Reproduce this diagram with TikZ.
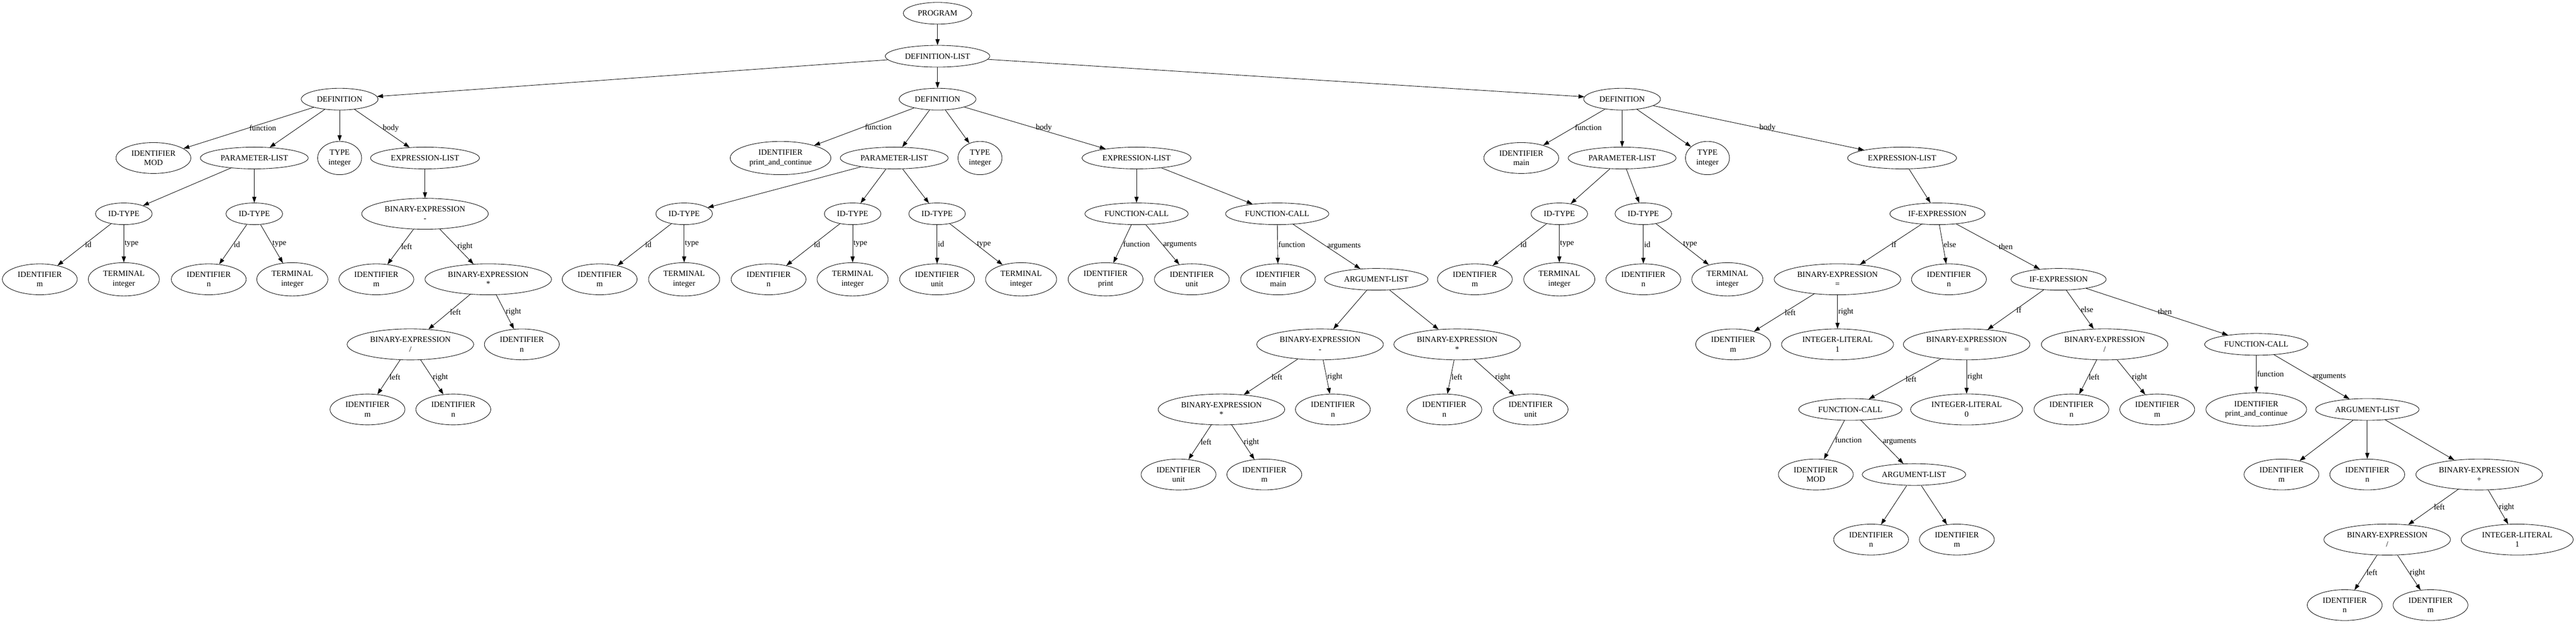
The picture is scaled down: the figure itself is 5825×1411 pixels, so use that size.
\documentclass[tikz,border=0pt]{standalone}
\usepackage{fontspec}
\setmainfont{Liberation Serif}
\usetikzlibrary{arrows.meta,shapes.geometric}
\newcommand{\astfont}{\fontsize{13.6}{16}\selectfont}
\tikzset{
  ast/.style={draw, ellipse, align=center, inner xsep=7.5pt, inner ysep=6pt,
    minimum width=55pt, minimum height=36.75pt, font=\astfont},
  lbl/.style={right, inner sep=1pt, font=\astfont}
}

\begin{document}
\begin{tikzpicture}[x=0.75pt, y=-0.75pt, line width=0.75pt,
  >={Triangle[length=10pt,width=7pt]}]
  \useasboundingbox (0,0) rectangle (5825,1411);

  \node [ast] (prog) at (2120,30) {PROGRAM};
  \node [ast] (dlist) at (2120,127) {DEFINITION-LIST};
  \node [ast] (def1) at (768,224) {DEFINITION};
  \node [ast] (def2) at (2120,224) {DEFINITION};
  \node [ast] (def3) at (3668,224) {DEFINITION};
  \draw [->] (prog) -- (dlist);
  \draw [->] (dlist) edge (def1) edge (def2) edge (def3);

  % first definition
  \node [ast] (mod1) at (347,357) {IDENTIFIER\\MOD};
  \node [ast] (pl1) at (575,357) {PARAMETER-LIST};
  \node [ast] (ty1) at (768,357) {TYPE\\integer};
  \node [ast] (el1) at (961,357) {EXPRESSION-LIST};
  \node [ast] (it1a) at (280,483) {ID-TYPE};
  \node [ast] (it1b) at (575,483) {ID-TYPE};
  \node [ast] (be1a) at (961,483) {BINARY-EXPRESSION\\-};
  \node [ast] (id1m) at (90,631) {IDENTIFIER\\m};
  \node [ast] (te1a) at (280,631) {TERMINAL\\integer};
  \node [ast] (id1n) at (472,631) {IDENTIFIER\\n};
  \node [ast] (te1b) at (661,631) {TERMINAL\\integer};
  \node [ast] (id1m2) at (851,631) {IDENTIFIER\\m};
  \node [ast] (be1b) at (1104,631) {BINARY-EXPRESSION\\*};
  \node [ast] (be1c) at (928,778) {BINARY-EXPRESSION\\/};
  \node [ast] (id1n2) at (1180,778) {IDENTIFIER\\n};
  \node [ast] (id1m3) at (831,925) {IDENTIFIER\\m};
  \node [ast] (id1n3) at (1025,925) {IDENTIFIER\\n};

  \draw [->] (def1) edge node [lbl] {function} (mod1) edge (pl1) edge (ty1)
    edge node [lbl] {body} (el1);
  \draw [->] (pl1) edge (it1a) edge (it1b);
  \draw [->] (it1a) edge node [lbl] {id} (id1m) edge node [lbl] {type} (te1a);
  \draw [->] (it1b) edge node [lbl] {id} (id1n) edge node [lbl] {type} (te1b);
  \draw [->] (el1) -- (be1a);
  \draw [->] (be1a) edge node [lbl] {left} (id1m2) edge node [lbl] {right} (be1b);
  \draw [->] (be1b) edge node [lbl] {left} (be1c) edge node [lbl] {right} (id1n2);
  \draw [->] (be1c) edge node [lbl] {left} (id1m3) edge node [lbl] {right} (id1n3);

  % second definition
  \node [ast] (pc2) at (1765,357) {IDENTIFIER\\print\_and\_continue};
  \node [ast] (pl2) at (2022,357) {PARAMETER-LIST};
  \node [ast] (ty2) at (2216,357) {TYPE\\integer};
  \node [ast] (el2) at (2570,357) {EXPRESSION-LIST};
  \node [ast] (it2a) at (1547,483) {ID-TYPE};
  \node [ast] (it2b) at (1928,483) {ID-TYPE};
  \node [ast] (it2c) at (2119,483) {ID-TYPE};
  \node [ast] (fc2a) at (2570,483) {FUNCTION-CALL};
  \node [ast] (fc2b) at (2888,483) {FUNCTION-CALL};
  \node [ast] (id2m) at (1356,631) {IDENTIFIER\\m};
  \node [ast] (te2a) at (1547,631) {TERMINAL\\integer};
  \node [ast] (id2n) at (1738,631) {IDENTIFIER\\n};
  \node [ast] (te2b) at (1928,631) {TERMINAL\\integer};
  \node [ast] (id2u) at (2119,631) {IDENTIFIER\\unit};
  \node [ast] (te2c) at (2309,631) {TERMINAL\\integer};
  \node [ast] (id2p) at (2500,631) {IDENTIFIER\\print};
  \node [ast] (id2u2) at (2695,631) {IDENTIFIER\\unit};
  \node [ast] (id2main) at (2890,631) {IDENTIFIER\\main};
  \node [ast] (al2) at (3112,631) {ARGUMENT-LIST};
  \node [ast] (be2a) at (2985,778) {BINARY-EXPRESSION\\-};
  \node [ast] (be2b) at (3295,778) {BINARY-EXPRESSION\\*};
  \node [ast] (be2c) at (2762,925) {BINARY-EXPRESSION\\*};
  \node [ast] (id2n2) at (3014,925) {IDENTIFIER\\n};
  \node [ast] (id2n3) at (3266,925) {IDENTIFIER\\n};
  \node [ast] (id2u3) at (3461,925) {IDENTIFIER\\unit};
  \node [ast] (id2u4) at (2665,1072) {IDENTIFIER\\unit};
  \node [ast] (id2m2) at (2859,1072) {IDENTIFIER\\m};

  \draw [->] (def2) edge node [lbl] {function} (pc2) edge (pl2) edge (ty2)
    edge node [lbl] {body} (el2);
  \draw [->] (pl2) edge (it2a) edge (it2b) edge (it2c);
  \draw [->] (it2a) edge node [lbl] {id} (id2m) edge node [lbl] {type} (te2a);
  \draw [->] (it2b) edge node [lbl] {id} (id2n) edge node [lbl] {type} (te2b);
  \draw [->] (it2c) edge node [lbl] {id} (id2u) edge node [lbl] {type} (te2c);
  \draw [->] (el2) edge (fc2a) edge (fc2b);
  \draw [->] (fc2a) edge node [lbl] {function} (id2p) edge node [lbl] {arguments} (id2u2);
  \draw [->] (fc2b) edge node [lbl] {function} (id2main) edge node [lbl] {arguments} (al2);
  \draw [->] (al2) edge (be2a) edge (be2b);
  \draw [->] (be2a) edge node [lbl] {left} (be2c) edge node [lbl] {right} (id2n2);
  \draw [->] (be2b) edge node [lbl] {left} (id2n3) edge node [lbl] {right} (id2u3);
  \draw [->] (be2c) edge node [lbl] {left} (id2u4) edge node [lbl] {right} (id2m2);

  % third definition
  \node [ast] (main3) at (3440,357) {IDENTIFIER\\main};
  \node [ast] (pl3) at (3668,357) {PARAMETER-LIST};
  \node [ast] (ty3) at (3861,357) {TYPE\\integer};
  \node [ast] (el3) at (4301,357) {EXPRESSION-LIST};
  \node [ast] (it3a) at (3526,483) {ID-TYPE};
  \node [ast] (it3b) at (3716,483) {ID-TYPE};
  \node [ast] (if3a) at (4381,483) {IF-EXPRESSION};
  \node [ast] (id3m) at (3335,631) {IDENTIFIER\\m};
  \node [ast] (te3a) at (3526,631) {TERMINAL\\integer};
  \node [ast] (id3n) at (3716,631) {IDENTIFIER\\n};
  \node [ast] (te3b) at (3906,631) {TERMINAL\\integer};
  \node [ast] (be3a) at (4155,631) {BINARY-EXPRESSION\\=};
  \node [ast] (id3n2) at (4407,631) {IDENTIFIER\\n};
  \node [ast] (if3b) at (4655,631) {IF-EXPRESSION};
  \node [ast] (id3m2) at (3919,778) {IDENTIFIER\\m};
  \node [ast] (il3a) at (4155,778) {INTEGER-LITERAL\\1};
  \node [ast] (be3b) at (4447,778) {BINARY-EXPRESSION\\=};
  \node [ast] (be3c) at (4759,778) {BINARY-EXPRESSION\\/};
  \node [ast] (fc3a) at (5102,778) {FUNCTION-CALL};
  \node [ast] (fc3b) at (4184,925) {FUNCTION-CALL};
  \node [ast] (il3b) at (4447,925) {INTEGER-LITERAL\\0};
  \node [ast] (id3n3) at (4684,925) {IDENTIFIER\\n};
  \node [ast] (id3m3) at (4878,925) {IDENTIFIER\\m};
  \node [ast] (pc3) at (5102,925) {IDENTIFIER\\print\_and\_continue};
  \node [ast] (al3a) at (5353,925) {ARGUMENT-LIST};
  \node [ast] (mod3) at (4106,1072) {IDENTIFIER\\MOD};
  \node [ast] (al3b) at (4328,1072) {ARGUMENT-LIST};
  \node [ast] (id3m4) at (5159,1072) {IDENTIFIER\\m};
  \node [ast] (id3n4) at (5353,1072) {IDENTIFIER\\n};
  \node [ast] (be3d) at (5606,1072) {BINARY-EXPRESSION\\+};
  \node [ast] (id3n5) at (4231,1219) {IDENTIFIER\\n};
  \node [ast] (id3m5) at (4425,1219) {IDENTIFIER\\m};
  \node [ast] (be3e) at (5398,1219) {BINARY-EXPRESSION\\/};
  \node [ast] (il3c) at (5692,1219) {INTEGER-LITERAL\\1};
  \node [ast] (id3n6) at (5302,1367) {IDENTIFIER\\n};
  \node [ast] (id3m6) at (5496,1367) {IDENTIFIER\\m};

  \draw [->] (def3) edge node [lbl] {function} (main3) edge (pl3) edge (ty3)
    edge node [lbl] {body} (el3);
  \draw [->] (pl3) edge (it3a) edge (it3b);
  \draw [->] (it3a) edge node [lbl] {id} (id3m) edge node [lbl] {type} (te3a);
  \draw [->] (it3b) edge node [lbl] {id} (id3n) edge node [lbl] {type} (te3b);
  \draw [->] (el3) -- (if3a);
  \draw [->] (if3a) edge node [lbl] {if} (be3a) edge node [lbl] {else} (id3n2)
    edge node [lbl] {then} (if3b);
  \draw [->] (be3a) edge node [lbl] {left} (id3m2) edge node [lbl] {right} (il3a);
  \draw [->] (if3b) edge node [lbl] {if} (be3b) edge node [lbl] {else} (be3c)
    edge node [lbl] {then} (fc3a);
  \draw [->] (be3b) edge node [lbl] {left} (fc3b) edge node [lbl] {right} (il3b);
  \draw [->] (be3c) edge node [lbl] {left} (id3n3) edge node [lbl] {right} (id3m3);
  \draw [->] (fc3a) edge node [lbl] {function} (pc3) edge node [lbl] {arguments} (al3a);
  \draw [->] (fc3b) edge node [lbl] {function} (mod3) edge node [lbl] {arguments} (al3b);
  \draw [->] (al3b) edge (id3n5) edge (id3m5);
  \draw [->] (al3a) edge (id3m4) edge (id3n4) edge (be3d);
  \draw [->] (be3d) edge node [lbl] {left} (be3e) edge node [lbl] {right} (il3c);
  \draw [->] (be3e) edge node [lbl] {left} (id3n6) edge node [lbl] {right} (id3m6);

\end{tikzpicture}
\end{document}
